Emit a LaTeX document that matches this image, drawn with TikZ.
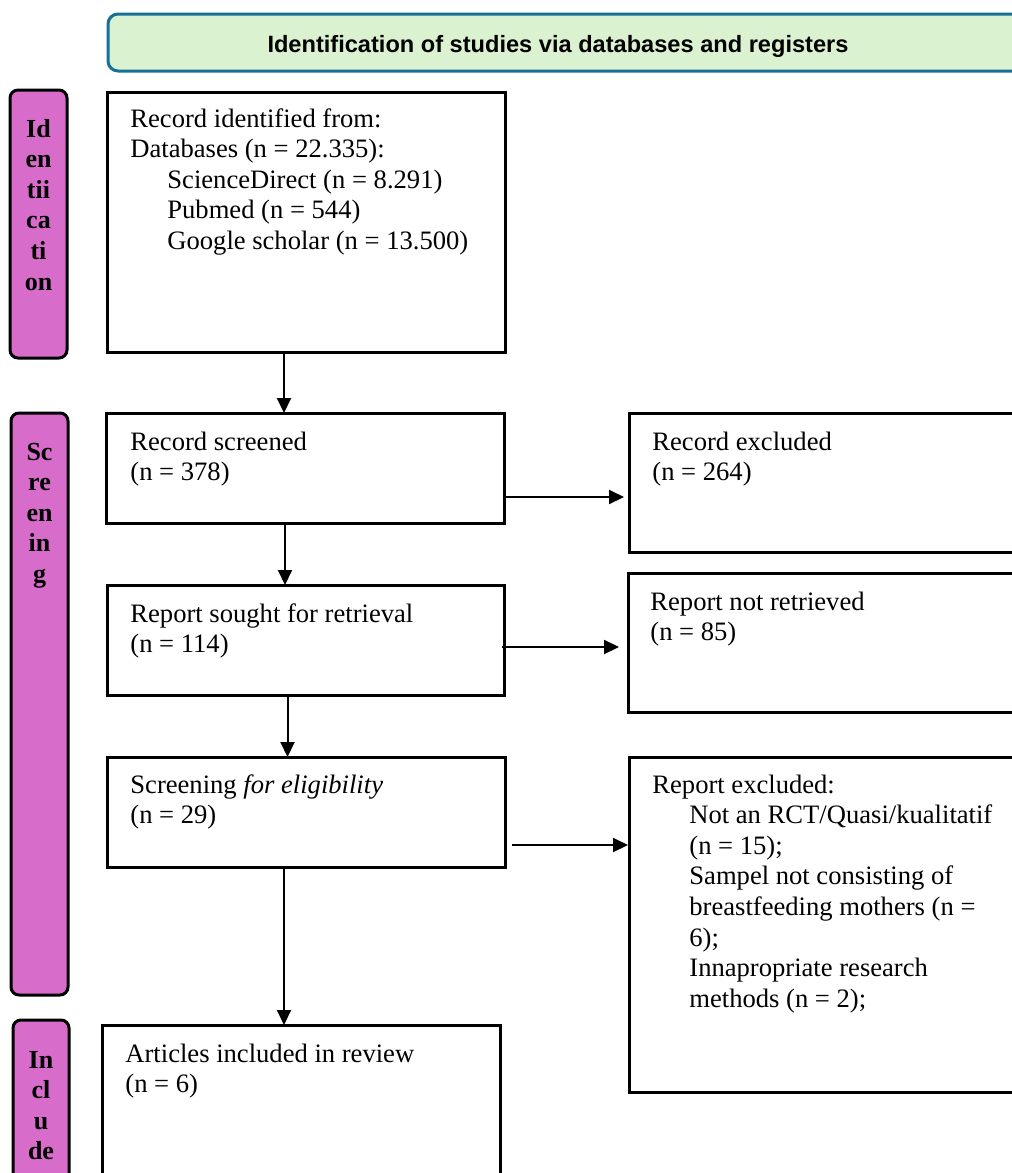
\documentclass[tikz,border=0pt]{standalone}
\usepackage{fontspec}
\setmainfont{Liberation Serif}
\newfontfamily\bannerfont{Liberation Sans}
\usetikzlibrary{arrows.meta}
\definecolor{barfill}{RGB}{216,108,202}
\definecolor{banfill}{RGB}{218,242,208}
\definecolor{banline}{RGB}{22,112,152}
\tikzset{
 box/.style={draw=black, line width=1.5pt, fill=white, inner sep=0pt, outer sep=0pt},
 sidebar/.style={draw=black, line width=1.5pt, fill=barfill, rounded corners=4pt, inner sep=0pt, outer sep=0pt},
 banner/.style={draw=banline, line width=1.5pt, fill=banfill, rounded corners=5pt, inner sep=0pt, outer sep=0pt},
 txt/.style={anchor=base west, inner sep=0pt, font=\fontsize{13.3}{15.3}\selectfont},
 bartxt/.style={anchor=base, inner sep=0pt, font=\fontsize{13}{15.3}\selectfont\bfseries},
 arr/.style={line width=1pt, -{Triangle[length=7.5pt,width=7pt]}},
}
\newcommand{\ind}{\hspace*{18.5pt}}
\begin{document}
\begin{tikzpicture}[x=0.5pt,y=-0.5pt]
\useasboundingbox (0,0) rectangle (1012,1173);
\clip (0,0) rectangle (1012,1173);

% banner
\node[banner, minimum width=461pt, minimum height=28.5pt] (ban) at (569,42.5) {};
\node[anchor=base, inner sep=0pt, font=\bannerfont\fontsize{11.8}{14}\selectfont\bfseries] (bant) at (558,52) {Identification of studies via databases and registers};

% side bars
\node[sidebar, minimum width=28.5pt, minimum height=134pt] (bar1) at (38.5,224) {};
\node[sidebar, minimum width=28.5pt, minimum height=291pt] (bar2) at (39.5,704) {};
\node[sidebar, minimum width=28pt, minimum height=87.5pt] (bar3) at (41,1107.5) {};
\node[bartxt] (bar1t) at (38.5,137) {\begin{tabular}[t]{@{}c@{}}Id\\en\\tii\\ca\\ti\\on\end{tabular}};
\node[bartxt] (bar2t) at (39.5,460) {\begin{tabular}[t]{@{}c@{}}Sc\\re\\en\\in\\g\end{tabular}};
\node[bartxt] (bar3t) at (41,1068) {\begin{tabular}[t]{@{}c@{}}In\\cl\\u\\de\end{tabular}};

% main boxes
\node[box, minimum width=199pt, minimum height=130pt] (b1) at (306,222) {};
\node[box, minimum width=199pt, minimum height=55pt] (b2) at (305,468) {};
\node[box, minimum width=198.5pt, minimum height=55pt] (b3) at (305.5,640) {};
\node[box, minimum width=199pt, minimum height=55pt] (b4) at (306,812) {};
\node[box, minimum width=199pt, minimum height=82.5pt] (b5) at (301,1107.5) {};

% right boxes
\node[box, minimum width=200.5pt, minimum height=69.5pt] (re) at (829.5,482.5) {};
\node[box, minimum width=201pt, minimum height=69.5pt] (rn) at (829,642.5) {};
\node[box, minimum width=200.5pt, minimum height=167.5pt] (rx) at (829.5,924.5) {};

% texts
\node[txt] (t1) at (130,127) {\begin{tabular}[t]{@{}l@{}}Record identified from:\\Databases (n = 22.335):\\\ind ScienceDirect (n = 8.291)\\\ind Pubmed (n = 544)\\\ind Google scholar (n = 13.500)\end{tabular}};
\node[txt] (t2) at (130,450) {\begin{tabular}[t]{@{}l@{}}Record screened\\(n = 378)\end{tabular}};
\node[txt] (t3) at (130,622) {\begin{tabular}[t]{@{}l@{}}Report sought for retrieval\\(n = 114)\end{tabular}};
\node[txt] (t4) at (130,793) {\begin{tabular}[t]{@{}l@{}}Screening \textit{for eligibility}\\(n = 29)\end{tabular}};
\node[txt] (t5) at (125,1062) {\begin{tabular}[t]{@{}l@{}}Articles included in review\\(n = 6)\end{tabular}};
\node[txt] (tre) at (652,450) {\begin{tabular}[t]{@{}l@{}}Record excluded\\(n = 264)\end{tabular}};
\node[txt] (trn) at (650,610) {\begin{tabular}[t]{@{}l@{}}Report not retrieved\\(n = 85)\end{tabular}};
\node[txt] (trx) at (652,793) {\begin{tabular}[t]{@{}l@{}}Report excluded:\\\ind Not an RCT/Quasi/kualitatif\\\ind (n = 15);\\\ind Sampel not consisting of\\\ind breastfeeding mothers (n =\\\ind 6);\\\ind Innapropriate research\\\ind methods (n = 2);\end{tabular}};

% connectors
\draw[arr] ([xshift=-11pt]b1.south) -- ([xshift=-11pt]b1.south |- b2.north);
\draw[arr] ([xshift=-10pt]b2.south) -- ([xshift=-10pt]b2.south |- b3.north);
\draw[arr] ([xshift=-9pt]b3.south) -- ([xshift=-9pt]b3.south |- b4.north);
\draw[arr] ([xshift=-11pt]b4.south) -- ([xshift=-11pt]b4.south |- b5.north);
\draw[arr, shorten >=2.5pt] ([yshift=-14.5pt]b2.east) -- ([yshift=-14.5pt]b2.east -| re.west);
\draw[arr, shorten >=4.5pt, shorten <=-1pt] ([yshift=-3.5pt]b3.east) -- ([yshift=-3.5pt]b3.east -| rn.west);
\draw[arr, shorten <=3.5pt, shorten >=0.5pt] ([yshift=-16.5pt]b4.east) -- ([yshift=-16.5pt]b4.east -| rx.west);
\end{tikzpicture}
\end{document}
